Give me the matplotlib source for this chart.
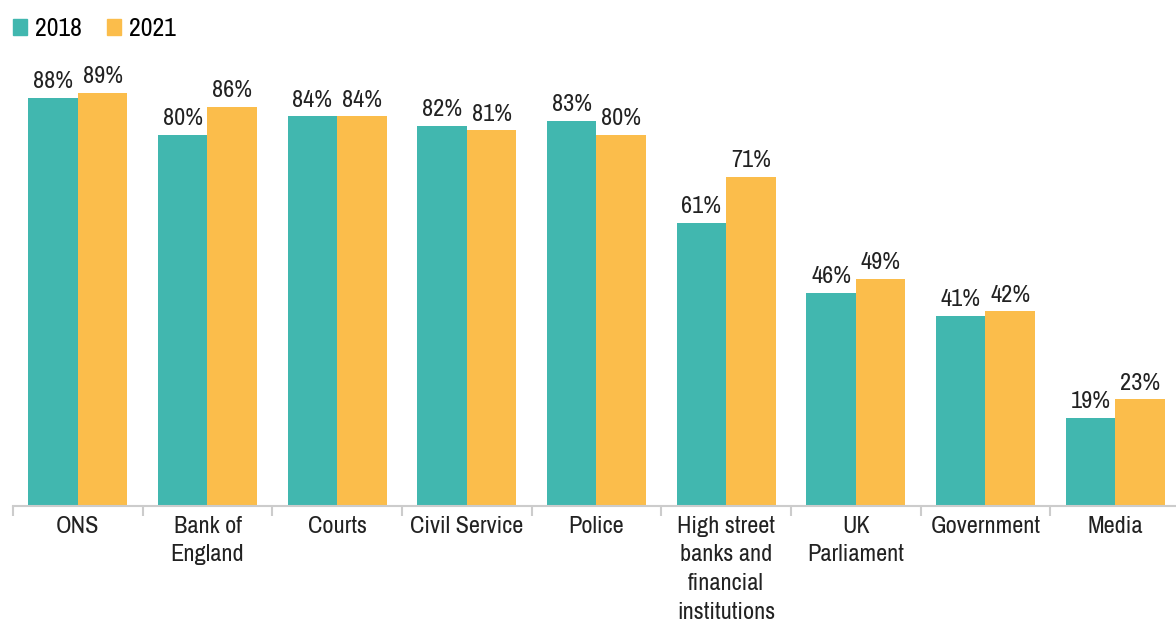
import matplotlib
matplotlib.use("Agg")
import matplotlib.pyplot as plt
import numpy as np
from matplotlib.patches import Patch

categories = ["ONS", "Bank of\nEngland", "Courts", "Civil Service", "Police",
              "High street\nbanks and\nfinancial\ninstitutions", "UK\nParliament",
              "Government", "Media"]
series_names = ["2018", "2021"]
values_2018 = [88, 80, 84, 82, 83, 61, 46, 41, 19]
values_2021 = [89, 86, 84, 81, 80, 71, 49, 42, 23]

teal = "#41B7AF"
yellow = "#FBBD4B"
plt.rcParams['font.family'] = ['Archivo Narrow', 'DejaVu Sans']

fig = plt.figure(figsize=(11.76, 6.26), dpi=100)
ax = fig.add_axes([13/1176, 120/626, 1167/1176, 464/626])

x = np.arange(len(categories))
w = 0.382
b1 = ax.bar(x - w/2, values_2018, w, color=teal, label=series_names[0])
b2 = ax.bar(x + w/2, values_2021, w, color=yellow, label=series_names[1])

for bars, vals in ((b1, values_2018), (b2, values_2021)):
    for r, v in zip(bars, vals):
        ax.annotate(f"{v}%", (r.get_x() + r.get_width()/2, v), xytext=(0, 4),
                    textcoords="offset points", ha="center", va="bottom",
                    fontsize=17.5, color="#222222")

ax.set_xlim(-0.5, len(categories) - 0.5)
ax.set_ylim(0, 100)
ax.set_yticks([])
for s in ("top", "right", "left"):
    ax.spines[s].set_visible(False)
ax.spines["bottom"].set_color("#cccccc")
ax.spines["bottom"].set_linewidth(1.5)
ax.set_xticks(x)
ax.set_xticklabels(categories, fontsize=17.5, color="#222222", linespacing=1.45)
ax.tick_params(axis="x", which="major", length=0, pad=7)
ax.set_xticks(np.arange(-0.5, len(categories) - 0.4, 1), minor=True)
ax.tick_params(axis="x", which="minor", length=7, width=1.5, color="#cccccc")

handles = [Patch(color=teal, label="2018"), Patch(color=yellow, label="2021")]
fig.legend(handles=handles, loc="upper left", bbox_to_anchor=(0.0, 0.993), ncol=2,
           frameon=False, fontsize=18.5, handlelength=0.55, handleheight=0.55,
           handletextpad=0.3, columnspacing=1.0, borderaxespad=0.1)

fig.savefig("out.png", dpi=100)
